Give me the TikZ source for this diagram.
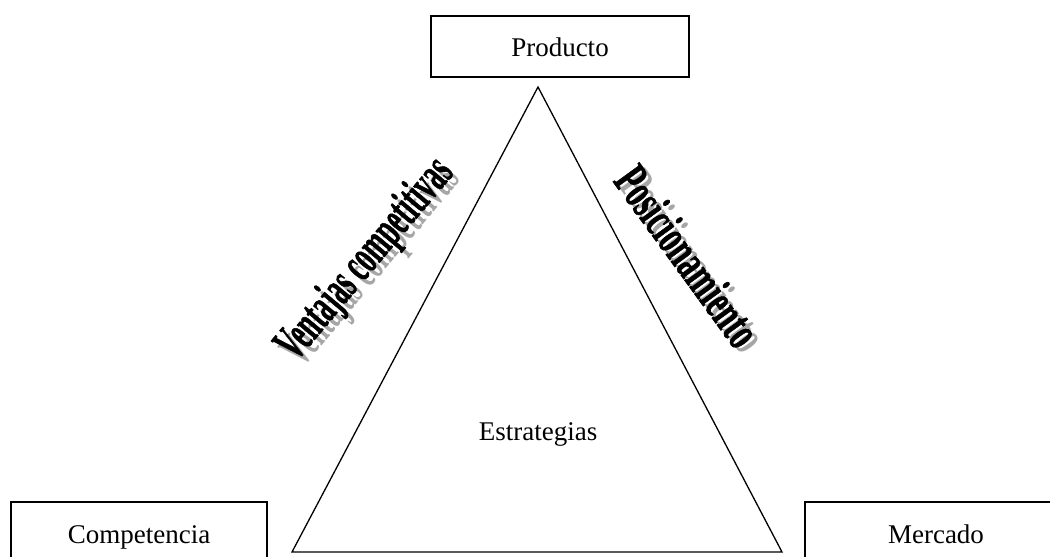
\documentclass[tikz,border=0pt]{standalone}
\usepackage{fontspec}
\setmainfont{Liberation Serif}
\newfontfamily\heavyfont{Liberation Serif Bold}[FakeBold=1.4]
\begin{document}
\begin{tikzpicture}[x=1pt,y=-1pt,
  box/.style={draw,line width=1.3pt,inner sep=0pt,text height=23pt,text depth=3pt,font=\fontsize{27}{32}\selectfont},
  plain/.style={inner sep=0pt,font=\fontsize{27}{32}\selectfont},
  wordart/.style={inner sep=0pt,font=\fontsize{50}{50}\heavyfont},
  wshadow/.style={inner sep=0pt,font=\fontsize{50}{50}\selectfont\bfseries,text=black!35},
  tri/.style={line width=1.3pt,line join=miter}]
\useasboundingbox (0,0) rectangle (1050,557);
\clip (0,0) rectangle (1050,557);
% boxes
\node[box,minimum width=258pt,minimum height=61pt] (producto) at (560,46.5) {Producto};
\node[box,minimum width=256pt,minimum height=62pt] (competencia) at (139,533) {Competencia};
\node[box,minimum width=262pt,minimum height=62pt] (mercado) at (936,533) {Mercado};
% triangle
\coordinate (apex) at (538,87);
\coordinate (bl) at (292,552);
\coordinate (br) at (782,552);
\draw[tri] (apex) -- (bl) -- (br) -- cycle;
\node[plain] (estrategias) at (538,434) {Estrategias};
% wordart labels
\node[wshadow,rotate=50] (ventajasS) at (373,266) {\scalebox{0.53}[1]{Ventajas competitivas}};
\node[wordart,rotate=50] (ventajas) at (366,260) {\scalebox{0.53}[1]{Ventajas competitivas}};
\node[wshadow,rotate=-54] (posicS) at (694,261) {\scalebox{0.6}[1]{Posicionamiento}};
\node[wordart,rotate=-54] (posic) at (688,256) {\scalebox{0.6}[1]{Posicionamiento}};
\end{tikzpicture}
\end{document}
